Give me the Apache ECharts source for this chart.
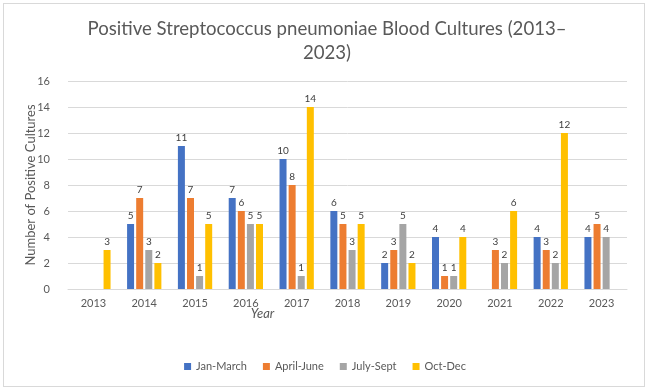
<!DOCTYPE html>
<html>
<head>
    <meta charset="utf-8">
    <title>Positive Streptococcus pneumoniae Blood Cultures</title>
    <script src="https://cdn.jsdelivr.net/npm/echarts@6/dist/echarts.min.js"></script>
    <style>
        html, body { margin: 0; padding: 0; background: #fff; }
        #frame { position: absolute; left: 3px; top: 3px; width: 640px; height: 382px; border: 1px solid #d9d9d9; }
        #chart { position: absolute; left: 0; top: 0; width: 650px; height: 391px; }
    </style>
</head>
<body>
<div id="frame"></div>
<div id="chart"></div>
<script type="text/javascript">
    // years on the x axis
    var years = ['2013', '2014', '2015', '2016', '2017', '2018', '2019', '2020', '2021', '2022', '2023'];
    // quarterly counts, null = no bar
    var janMarch   = [null, 5, 11, 7, 10, 6, 2, 4, null, 4, 4];
    var aprilJune  = [null, 7, 7, 6, 8, 5, 3, 1, 3, 3, 5];
    var julySept   = [null, 3, 1, 5, 1, 3, 5, 1, 2, 2, 4];
    var octDec     = [3, 2, 5, 5, 14, 5, 2, 4, 6, 12, null];

    var font = 'Lato, "Open Sans", sans-serif';
    var labelStyle = {show: true, position: 'top', fontSize: 10, color: '#404040', fontFamily: font, distance: 3};

    function bar(name, data, color) {
        return {
            name: name,
            type: 'bar',
            data: data,
            barWidth: 7,
            barGap: '30%',
            itemStyle: {color: color},
            label: labelStyle
        };
    }

    var myChart = echarts.init(document.getElementById('chart'));
    myChart.setOption({
        animation: false,
        title: {
            text: 'Positive Streptococcus pneumoniae Blood Cultures (2013–\n2023)',
            left: 322,
            top: 12,
            textAlign: 'center',
            textStyle: {fontSize: 18.6, fontWeight: 'normal', color: '#595959', fontFamily: font, lineHeight: 24}
        },
        legend: {
            bottom: 14,
            left: 'center',
            itemWidth: 7,
            itemHeight: 7,
            itemGap: 16,
            icon: 'rect',
            textStyle: {fontSize: 11, color: '#595959', fontFamily: font},
            data: ['Jan-March', 'April-June', 'July-Sept', 'Oct-Dec']
        },
        grid: {left: 68, right: 23, top: 81, bottom: 102},
        xAxis: {
            type: 'category',
            data: years,
            name: 'Year',
            nameLocation: 'middle',
            nameGap: 18,
            nameMoveOverlap: false,
            nameTextStyle: {fontStyle: 'italic', fontSize: 13, color: '#595959', fontFamily: font, padding: [0, 170, 0, 0]},
            axisLine: {lineStyle: {color: '#d9d9d9'}},
            axisTick: {show: false},
            axisLabel: {fontSize: 11, color: '#595959', fontFamily: font, margin: 9}
        },
        yAxis: {
            type: 'value',
            min: 0,
            max: 16,
            interval: 2,
            name: 'Number of Positive Cultures',
            nameLocation: 'middle',
            nameGap: 31,
            nameMoveOverlap: false,
            nameTextStyle: {fontSize: 13, color: '#595959', fontFamily: font},
            axisLine: {show: false},
            axisTick: {show: false},
            splitLine: {lineStyle: {color: '#d9d9d9'}},
            axisLabel: {fontSize: 11, color: '#595959', fontFamily: font, margin: 18}
        },
        series: [
            bar('Jan-March', janMarch, '#4472C4'),
            bar('April-June', aprilJune, '#ED7D31'),
            bar('July-Sept', julySept, '#A5A5A5'),
            bar('Oct-Dec', octDec, '#FFC000')
        ]
    });
</script>
</body>
</html>
